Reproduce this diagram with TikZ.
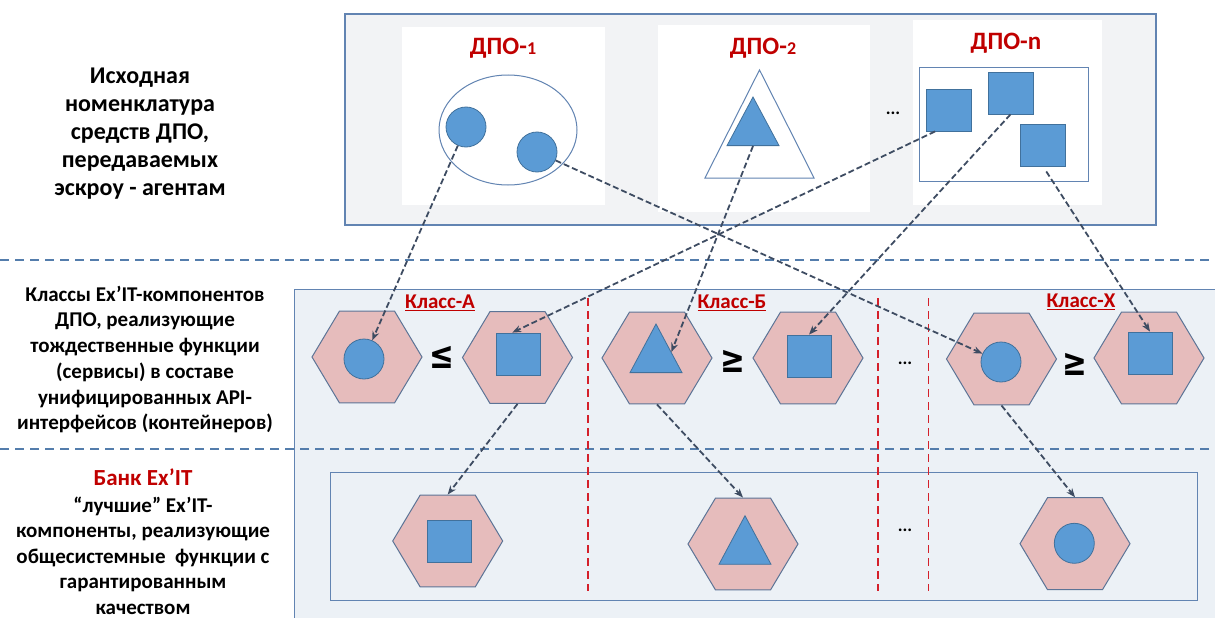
\documentclass[tikz,border=0pt]{standalone}
\usepackage{fontspec}
\setmainfont{Carlito}
\newfontfamily\relfont{DejaVu Sans}
\usetikzlibrary{shapes.geometric,arrows.meta}

\definecolor{framec}{RGB}{98,132,178}
\definecolor{sepc}{RGB}{84,125,172}
\definecolor{redc}{RGB}{192,0,0}
\definecolor{dashred}{RGB}{212,32,42}
\definecolor{hexfill}{RGB}{230,188,188}
\definecolor{hexline}{RGB}{92,116,150}
\definecolor{shapefill}{RGB}{91,155,213}
\definecolor{shapeline}{RGB}{65,113,156}
\definecolor{arrowc}{RGB}{62,76,98}
\definecolor{topfill}{RGB}{242,243,245}
\definecolor{midfill}{RGB}{236,241,246}

\newcommand{\lownum}[1]{{\fontsize{18}{20}\selectfont #1}}

\begin{document}
\begin{tikzpicture}[
  x=1pt, y=-1pt,
  frame/.style={draw=framec, line width=1.2pt},
  hexa/.style={regular polygon, regular polygon sides=6, minimum size=110pt,
    inner sep=0pt, yscale=0.965, draw=hexline, fill=hexfill, line width=1pt},
  blob/.style={circle, minimum size=40pt, inner sep=0pt, draw=shapeline,
    fill=shapefill, line width=0.8pt},
  cube/.style={rectangle, minimum width=44pt, minimum height=42pt, inner sep=0pt,
    draw=shapeline, fill=shapefill, line width=0.8pt},
  tri/.style={regular polygon, regular polygon sides=3, minimum size=60pt,
    inner sep=0pt, yscale=1.08, draw=shapeline, fill=shapefill, line width=0.8pt},
  feed/.style={draw=arrowc, line width=1.8pt, dash pattern=on 6pt off 3pt,
    -{Stealth[length=9pt,width=7pt]}},
  sep/.style={draw=sepc, line width=1.8pt, dash pattern=on 9pt off 6pt},
  classsep/.style={draw=dashred, line width=1.8pt, dash pattern=on 8pt off 5pt},
  caption/.style={font=\bfseries\fontsize{24}{28}\selectfont, align=center},
  dpo/.style={font=\bfseries\fontsize{25}{30}\selectfont, text=redc},
  classlabel/.style={font=\bfseries\fontsize{21}{24}\selectfont, text=redc},
  rel/.style={font=\relfont\bfseries\fontsize{38}{42}\selectfont, xscale=0.78},
  dots/.style={font=\bfseries\fontsize{18}{20}\selectfont}
]
  \useasboundingbox (0,0) rectangle (1215,618);

  % Source nomenclature.
  \fill[topfill] (345,14) rectangle (1156,225);
  \draw[frame] (345,14) rectangle (1156,225);
  \fill[white] (402,27) rectangle (605,205);
  \fill[white] (658,25) rectangle (870,212);
  \fill[white] (913,20) rectangle (1102,205);
  \node[caption] (src) at (140,133.5)
    {Исходная\\номенклатура\\средств ДПО,\\передаваемых\\эскроу - агентам};

  \node[dpo] (d1) at (503,48) {ДПО-\lownum{1}};
  \node[ellipse, draw=framec, fill=white, line width=1pt,
    minimum width=138pt, minimum height=110pt] (e1) at (508,130) {};
  \node[blob] (c1) at (466,127) {};
  \node[blob] (c2) at (537,152) {};

  \node[dpo] (d2) at (763,48) {ДПО-\lownum{2}};
  \node[regular polygon, regular polygon sides=3, minimum size=126pt,
    inner sep=0pt, yscale=1.144, draw=framec, fill=white, line width=1pt]
    (t0) at (759.5,142) {};
  \node[tri] (t1) at (753,129.4) {};

  \node[dots] (td) at (893,113) {...};

  \node[dpo] (dn) at (1006,43) {ДПО-n};
  \node[rectangle, draw=framec, fill=white, line width=1pt,
    minimum width=169pt, minimum height=113pt] (r1) at (1003.5,124.5) {};
  \node[cube, minimum width=45pt] (q1) at (948.5,110) {};
  \node[cube, minimum width=45pt] (q2) at (1010.5,93) {};
  \node[cube, minimum width=45pt] (q3) at (1043,145) {};

  % Class and bank areas.
  \fill[midfill] (294,289) rectangle (1230,630);
  \draw[frame, line width=1pt] (1230,289) -- (294,289) -- (294,630);
  \draw[frame, line width=1pt] (330,472) rectangle (1197,600);
  \foreach \yy in {260,449}
    \draw[sep] (0,\yy) -- (1215,\yy);
  \foreach \xx in {588,878,928.5}
    \draw[classsep] (\xx,298) -- (\xx,591);

  \node[caption, font=\bfseries\fontsize{21}{25.7}\selectfont] (cls) at (145,359.5)
    {Классы Ex’IT-компонентов\\ДПО, реализующие\\тождественные функции\\(сервисы) в составе\\унифицированных API-\\интерфейсов (контейнеров)};

  % Classes.
  \node[hexa] (h1) at (367,357) {};
  \node[hexa] (h2) at (517.5,357.5) {};
  \node[hexa] (h3) at (657,358) {};
  \node[hexa] (h4) at (808,358) {};
  \node[hexa] (h5) at (1001.5,359) {};
  \node[hexa] (h6) at (1149,358) {};
  \node[blob] (m1) at (364,359) {};
  \node[cube] (m2) at (518,354) {};
  \node[tri] (m3) at (656,356.4) {};
  \node[cube] (m4) at (809,356) {};
  \node[blob] (m5) at (1001,362) {};
  \node[cube] (m6) at (1150,353) {};
  \node[rel] (le1) at (442,357) {≤};
  \node[rel] (ge1) at (733,361) {≥};
  \node[rel] (ge2) at (1075,364) {≥};
  \node[dots] (md) at (905,363) {...};
  \node[classlabel] (ka) at (440,303) {\underline{Класс-А}};
  \node[classlabel] (kb) at (732,303) {\underline{Класс-Б}};
  \node[classlabel] (kx) at (1081,302) {\underline{Класс-Х}};

  % Bank.
  \node[caption, font=\bfseries\fontsize{23}{28}\selectfont, text=redc] (bank) at (143,477)
    {Банк Ex’IT};
  \node[caption, font=\bfseries\fontsize{21}{25.5}\selectfont] (banktxt) at (143,555.5)
    {“лучшие” Ex’IT-\\компоненты, реализующие\\общесистемные\ \ функции с\\гарантированным\\качеством};
  \node[hexa] (b1) at (447.7,541) {};
  \node[hexa] (b2) at (743,544) {};
  \node[hexa] (b3) at (1075,543.7) {};
  \node[cube] (n1) at (449,541.7) {};
  \node[tri] (n2) at (745,548.1) {};
  \node[blob] (n3) at (1074.3,543.3) {};
  \node[dots] (bd) at (905,530) {...};

  % Transfers.
  \draw[feed] (c1) -- (m1);
  \draw[feed] (c2) -- (m5);
  \draw[feed] (t1.south) -- (m3.15);
  \draw[feed] (q1.-122) -- (m2.105);
  \draw[feed] (q2.south) -- (m4.north);
  \draw[feed, shorten <=6pt] (q3.south) -- (m6.north);
  \draw[feed] (h2.south) -- (b1.north);
  \draw[feed] (h3.south) -- (b2.north);
  \draw[feed] (h5.south) -- (b3.north);
\end{tikzpicture}
\end{document}
